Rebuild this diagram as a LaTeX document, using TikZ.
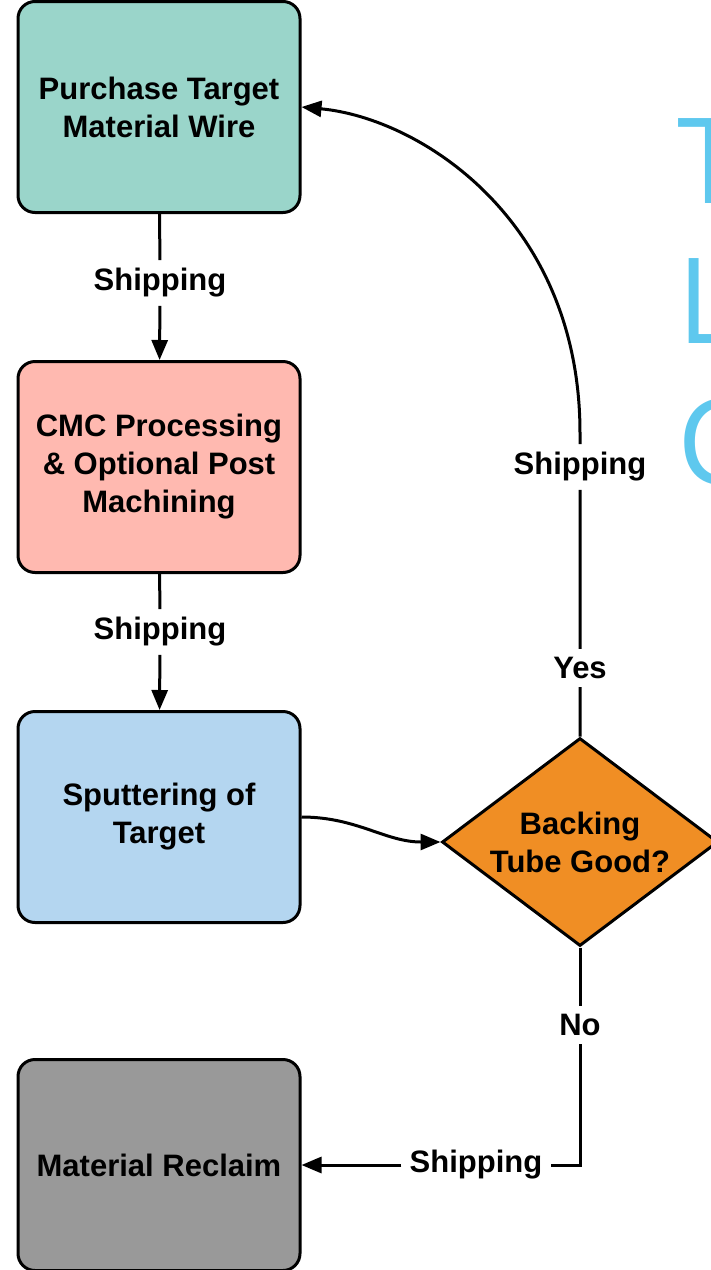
\documentclass[tikz,border=0pt]{standalone}
\usepackage{fontspec}
\setmainfont{Liberation Sans}
\newfontfamily\titlefont{Open Sans}
\usetikzlibrary{positioning,shapes.geometric,arrows.meta}
\definecolor{buycol}{RGB}{154,213,202}
\definecolor{cmccol}{RGB}{255,185,176}
\definecolor{sputcol}{RGB}{180,214,240}
\definecolor{reclcol}{RGB}{153,153,153}
\definecolor{deccol}{RGB}{240,142,36}
\definecolor{titlecol}{RGB}{94,200,238}
\tikzset{stage/.style={draw,rounded corners=8.5pt,line width=1.5pt,minimum width=141pt,minimum height=105.5pt,align=center,font=\bfseries\fontsize{15.5}{19}\selectfont},
  check/.style={draw,diamond,aspect=1.33,line width=1.5pt,inner sep=0pt,minimum width=138pt,minimum height=104pt,align=center,font=\bfseries\fontsize{15.5}{19}\selectfont},
  lbl/.style={inner sep=4pt,font=\bfseries\fontsize{15.5}{19}\selectfont},
  flow/.style={line width=1.5pt,-{Triangle[length=10pt,width=8pt]}},
  big/.style={text=titlecol,anchor=base west,inner sep=0pt,font=\titlefont\fontsize{59.5}{70}\selectfont}}

\begin{document}
\begin{tikzpicture}[x=0.5pt,y=-0.5pt]
\useasboundingbox (0,0) rectangle (711,1270);
\clip (0,0) rectangle (711,1270);
% slide title, cut off at the edge
\node[big] (t1) at (677,203) {T};
\node[big] (t2) at (677,343) {L};
\node[big] (t3) at (677,484) {C};

\node[stage,fill=buycol] (buy) at (159,107) {Purchase Target\\Material Wire};
\node[stage,fill=cmccol] (cmc) at (159,467) {CMC Processing\\\& Optional Post\\Machining};
\node[stage,fill=sputcol] (sput) at (159,817) {Sputtering of\\Target};
\node[stage,fill=reclcol] (recl) at (159,1165) {Material Reclaim};
\node[check,fill=deccol] (dec) at (580,842) {Backing\\Tube Good?};

\node[lbl] (ship1) at (160,283) {Shipping};
\node[lbl] (ship2) at (160,632) {Shipping};
\node[lbl] (ship3) at (580,467) {Shipping};
\node[lbl] (ship4) at (476,1165) {Shipping};
\node[lbl] (yes) at (580,668) {Yes};
\node[lbl] (no) at (580,1025) {No};
\coordinate (bend) at (580,433);
\coordinate (turn) at (580,1165);

\draw[flow] (buy) -- (ship1) -- (cmc);
\draw[flow] (cmc) -- (ship2) -- (sput);
\draw[flow] (sput.east) to[out=0,in=180] (dec.west);
\draw[flow] (dec.north) -- (yes) -- (ship3) -- (bend) .. controls (580,220) and (420,118) .. (buy.east);
\draw[flow] (dec.south) -- (no) -- (turn) -- (ship4) -- (recl.east);
\end{tikzpicture}
\end{document}
